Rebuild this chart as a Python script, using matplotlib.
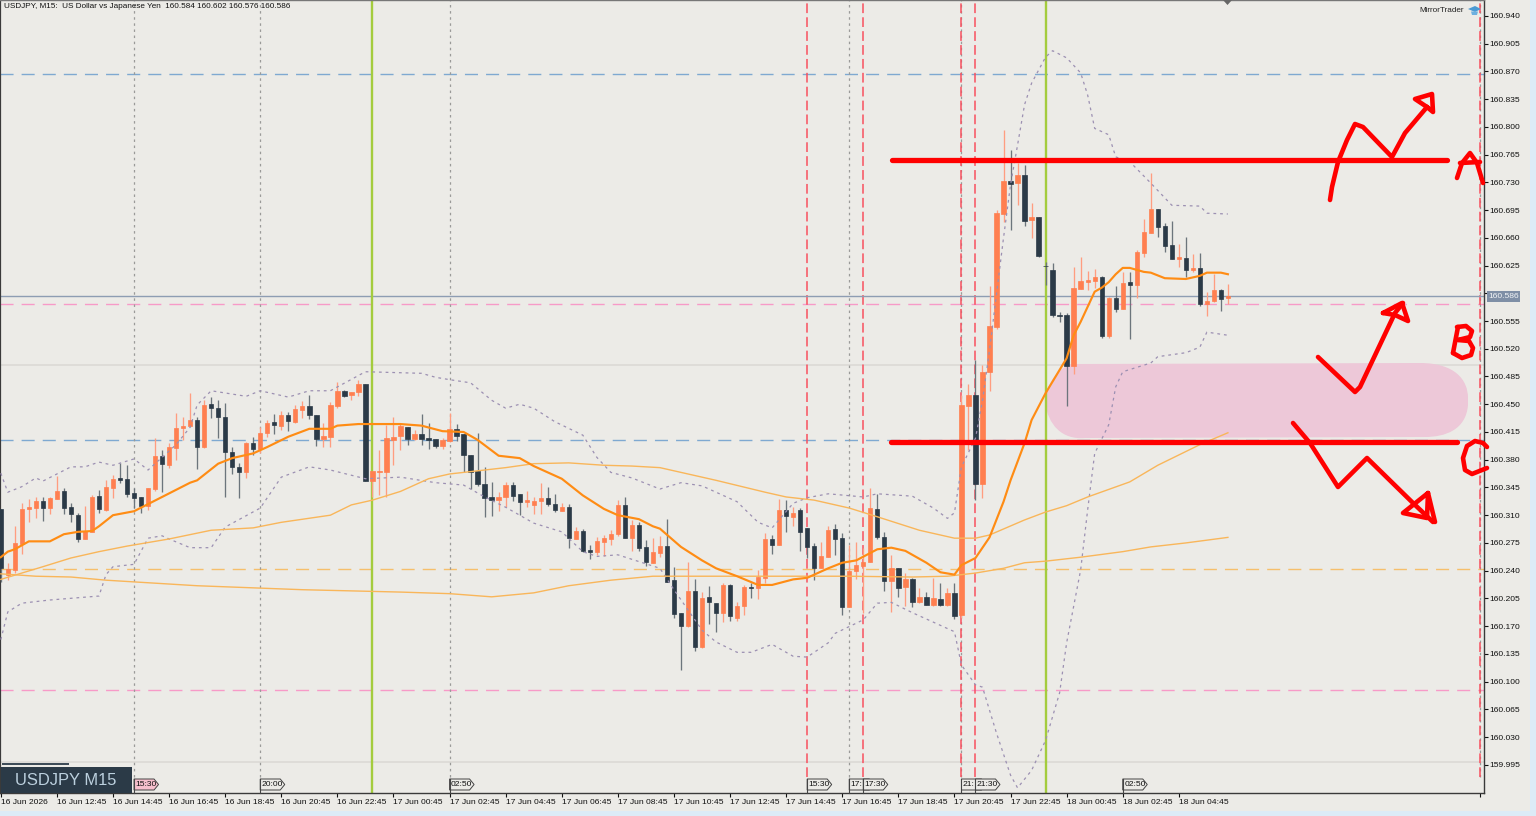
import matplotlib
matplotlib.use("Agg")
import matplotlib.pyplot as plt
from matplotlib.patches import PathPatch, Polygon, Rectangle
from matplotlib.path import Path

plt.rcParams['font.family'] = ['Liberation Sans', 'DejaVu Sans']
plt.rcParams['lines.scale_dashes'] = False

# USDJPY M15 candles, one entry per bar
opens = [160.318, 160.235, 160.241, 160.274, 160.318, 160.319, 160.328, 160.319, 160.330, 160.340,
         160.320, 160.310, 160.280, 160.289, 160.334, 160.317, 160.344, 160.357, 160.356, 160.338,
         160.333, 160.322, 160.343, 160.385, 160.373, 160.395, 160.420, 160.423, 160.430, 160.396,
         160.450, 160.445, 160.434, 160.390, 160.371, 160.364, 160.401, 160.393, 160.414, 160.428,
         160.423, 160.436, 160.428, 160.443, 160.448, 160.436, 160.406, 160.409, 160.448, 160.467,
         160.462, 160.465, 160.475, 160.353, 160.364, 160.364, 160.405, 160.410, 160.421, 160.406,
         160.412, 160.407, 160.406, 160.397, 160.404, 160.419, 160.412, 160.386, 160.366, 160.349,
         160.333, 160.329, 160.333, 160.348, 160.337, 160.327, 160.323, 160.328, 160.332, 160.324,
         160.315, 160.320, 160.280, 160.290, 160.266, 160.264, 160.276, 160.280, 160.286, 160.323,
         160.281, 160.298, 160.270, 160.250, 160.262, 160.271, 160.228, 160.187, 160.170, 160.214,
         160.144, 160.207, 160.199, 160.187, 160.222, 160.180, 160.195, 160.219, 160.218, 160.231,
         160.280, 160.272, 160.317, 160.308, 160.317, 160.294, 160.271, 160.243, 160.257, 160.293,
         160.281, 160.194, 160.240, 160.246, 160.251, 160.318, 160.282, 160.227, 160.243, 160.219,
         160.229, 160.200, 160.207, 160.197, 160.204, 160.197, 160.212, 160.184, 160.448, 160.462,
         160.349, 160.491, 160.547, 160.690, 160.732, 160.729, 160.739, 160.682, 160.686, 160.625,
         160.619, 160.563, 160.563, 160.498, 160.595, 160.604, 160.605, 160.611, 160.536, 160.584,
         160.570, 160.604, 160.600, 160.641, 160.666, 160.696, 160.675, 160.651, 160.633, 160.635,
         160.619, 160.622, 160.576, 160.580, 160.594, 160.584]
highs = [160.318, 160.250, 160.296, 160.325, 160.330, 160.333, 160.333, 160.333, 160.359, 160.344,
         160.325, 160.313, 160.322, 160.335, 160.342, 160.354, 160.361, 160.376, 160.373, 160.344,
         160.333, 160.344, 160.407, 160.392, 160.401, 160.439, 160.434, 160.464, 160.434, 160.455,
         160.459, 160.455, 160.452, 160.396, 160.376, 160.402, 160.409, 160.421, 160.430, 160.438,
         160.441, 160.440, 160.449, 160.454, 160.462, 160.436, 160.426, 160.453, 160.478, 160.468,
         160.465, 160.481, 160.475, 160.366, 160.392, 160.424, 160.434, 160.426, 160.421, 160.417,
         160.438, 160.426, 160.406, 160.407, 160.439, 160.425, 160.412, 160.386, 160.414, 160.371,
         160.352, 160.339, 160.352, 160.352, 160.337, 160.340, 160.333, 160.351, 160.346, 160.337,
         160.325, 160.324, 160.295, 160.293, 160.272, 160.282, 160.285, 160.291, 160.329, 160.333,
         160.304, 160.301, 160.279, 160.281, 160.284, 160.305, 160.245, 160.187, 160.251, 160.229,
         160.213, 160.221, 160.199, 160.224, 160.223, 160.200, 160.222, 160.224, 160.241, 160.288,
         160.285, 160.330, 160.329, 160.320, 160.319, 160.294, 160.275, 160.276, 160.296, 160.299,
         160.288, 160.272, 160.276, 160.269, 160.344, 160.337, 160.289, 160.260, 160.243, 160.237,
         160.231, 160.218, 160.213, 160.231, 160.224, 160.218, 160.224, 160.462, 160.475, 160.506,
         160.499, 160.599, 160.695, 160.796, 160.771, 160.754, 160.752, 160.704, 160.686, 160.629,
         160.628, 160.566, 160.565, 160.623, 160.636, 160.618, 160.621, 160.612, 160.585, 160.599,
         160.617, 160.617, 160.645, 160.684, 160.742, 160.696, 160.679, 160.681, 160.652, 160.661,
         160.640, 160.641, 160.592, 160.614, 160.595, 160.602]
lows = [160.226, 160.228, 160.237, 160.261, 160.301, 160.306, 160.303, 160.311, 160.330, 160.311,
        160.301, 160.276, 160.280, 160.289, 160.313, 160.315, 160.332, 160.351, 160.333, 160.319,
        160.313, 160.317, 160.340, 160.339, 160.370, 160.380, 160.405, 160.421, 160.368, 160.395,
        160.433, 160.407, 160.333, 160.362, 160.332, 160.357, 160.386, 160.388, 160.409, 160.412,
        160.417, 160.416, 160.426, 160.433, 160.431, 160.397, 160.396, 160.396, 160.445, 160.459,
        160.455, 160.460, 160.353, 160.333, 160.335, 160.333, 160.373, 160.392, 160.399, 160.405,
        160.399, 160.393, 160.395, 160.393, 160.402, 160.404, 160.364, 160.343, 160.347, 160.308,
        160.309, 160.315, 160.320, 160.328, 160.310, 160.320, 160.311, 160.311, 160.322, 160.314,
        160.315, 160.269, 160.280, 160.264, 160.255, 160.260, 160.258, 160.272, 160.284, 160.281,
        160.265, 160.265, 160.246, 160.250, 160.257, 160.226, 160.180, 160.115, 160.169, 160.139,
        160.142, 160.173, 160.163, 160.175, 160.176, 160.176, 160.184, 160.205, 160.204, 160.224,
        160.261, 160.272, 160.289, 160.296, 160.265, 160.256, 160.228, 160.243, 160.257, 160.260,
        160.184, 160.194, 160.229, 160.187, 160.251, 160.280, 160.214, 160.188, 160.207, 160.195,
        160.194, 160.199, 160.197, 160.195, 160.195, 160.195, 160.179, 160.180, 160.392, 160.329,
        160.332, 160.467, 160.545, 160.680, 160.670, 160.701, 160.675, 160.660, 160.636, 160.600,
        160.560, 160.554, 160.448, 160.488, 160.595, 160.594, 160.597, 160.534, 160.534, 160.566,
        160.570, 160.532, 160.584, 160.636, 160.666, 160.661, 160.642, 160.633, 160.623, 160.611,
        160.617, 160.574, 160.561, 160.579, 160.568, 160.576]
closes = [160.243, 160.242, 160.275, 160.318, 160.320, 160.328, 160.319, 160.332, 160.340, 160.319,
          160.311, 160.280, 160.290, 160.333, 160.318, 160.346, 160.356, 160.354, 160.337, 160.332,
          160.322, 160.344, 160.385, 160.375, 160.396, 160.420, 160.423, 160.430, 160.396, 160.449,
          160.445, 160.434, 160.390, 160.371, 160.364, 160.401, 160.393, 160.414, 160.426, 160.424,
          160.436, 160.429, 160.444, 160.448, 160.436, 160.406, 160.410, 160.449, 160.467, 160.460,
          160.465, 160.475, 160.353, 160.366, 160.366, 160.407, 160.409, 160.423, 160.406, 160.412,
          160.406, 160.405, 160.397, 160.405, 160.419, 160.410, 160.386, 160.364, 160.349, 160.332,
          160.329, 160.333, 160.348, 160.334, 160.327, 160.329, 160.328, 160.332, 160.324, 160.317,
          160.320, 160.281, 160.290, 160.265, 160.264, 160.277, 160.281, 160.286, 160.323, 160.281,
          160.298, 160.269, 160.251, 160.264, 160.271, 160.226, 160.185, 160.170, 160.214, 160.144,
          160.205, 160.200, 160.187, 160.222, 160.183, 160.195, 160.219, 160.218, 160.232, 160.280,
          160.272, 160.317, 160.309, 160.313, 160.289, 160.270, 160.243, 160.258, 160.291, 160.280,
          160.194, 160.240, 160.247, 160.251, 160.319, 160.282, 160.227, 160.243, 160.218, 160.229,
          160.200, 160.207, 160.197, 160.205, 160.197, 160.212, 160.183, 160.449, 160.462, 160.349,
          160.491, 160.549, 160.691, 160.732, 160.728, 160.739, 160.681, 160.686, 160.637, 160.624,
          160.563, 160.561, 160.498, 160.597, 160.605, 160.607, 160.611, 160.536, 160.584, 160.570,
          160.603, 160.600, 160.642, 160.667, 160.696, 160.674, 160.650, 160.633, 160.636, 160.619,
          160.622, 160.576, 160.580, 160.594, 160.583, 160.586]

# fast moving average
fast_bars = [0, 1, 2, 4, 7, 9, 11, 13, 14, 16, 19, 21, 23, 27, 28, 31, 33, 36, 38, 41, 44, 47, 48, 51, 57,
             60, 63, 66, 68, 71, 74, 76, 80, 83, 86, 88, 91, 93, 94, 97, 100, 102, 105, 108, 110, 113, 115,
             118, 120, 122, 125, 127, 129, 132, 134, 136, 137, 139, 141, 143, 144, 146, 147, 149, 152, 153,
             154, 156, 157, 158, 159, 160, 161, 163, 164, 166, 169, 171, 172, 174, 175]
fast_ma = [160.257, 160.264, 160.267, 160.277, 160.277, 160.286, 160.289, 160.290, 160.296, 160.310, 160.315,
           160.324, 160.333, 160.351, 160.354, 160.375, 160.382, 160.388, 160.396, 160.409, 160.419, 160.419,
           160.423, 160.425, 160.425, 160.423, 160.416, 160.415, 160.405, 160.385, 160.382, 160.372, 160.356,
           160.335, 160.318, 160.310, 160.305, 160.296, 160.293, 160.270, 160.253, 160.243, 160.233, 160.222,
           160.222, 160.229, 160.231, 160.243, 160.250, 160.253, 160.267, 160.269, 160.265, 160.250, 160.238,
           160.235, 160.247, 160.256, 160.282, 160.327, 160.354, 160.401, 160.430, 160.464, 160.508, 160.537,
           160.554, 160.592, 160.597, 160.604, 160.614, 160.622, 160.622, 160.617, 160.616, 160.609, 160.608,
           160.612, 160.616, 160.616, 160.614]

# medium moving average
mid_bars = [0, 3, 6, 10, 14, 18, 24, 30, 36, 40, 47, 50, 53, 57, 59, 61, 64, 68, 72, 76, 81, 86, 90, 94, 100,
            102, 109, 112, 116, 121, 125, 131, 136, 139, 141, 146, 149, 152, 155, 161, 165, 171, 175]
mid_ma = [160.229, 160.237, 160.245, 160.256, 160.264, 160.271, 160.280, 160.291, 160.294, 160.301, 160.310,
          160.323, 160.329, 160.340, 160.348, 160.356, 160.362, 160.366, 160.370, 160.375, 160.376, 160.373,
          160.372, 160.370, 160.358, 160.354, 160.339, 160.333, 160.329, 160.319, 160.308, 160.291, 160.281,
          160.281, 160.285, 160.304, 160.314, 160.322, 160.333, 160.352, 160.373, 160.399, 160.414]

# slow moving average
slow_bars = [0, 5, 10, 15, 28, 43, 57, 64, 70, 76, 81, 87, 93, 100, 106, 121, 130, 135, 139, 143, 146, 149,
             154, 160, 164, 169, 175]
slow_ma = [160.236, 160.233, 160.232, 160.228, 160.221, 160.216, 160.213, 160.211, 160.207, 160.212, 160.221,
           160.228, 160.233, 160.233, 160.233, 160.233, 160.232, 160.233, 160.237, 160.243, 160.250, 160.252,
           160.257, 160.264, 160.270, 160.275, 160.282]

# bollinger bands
upper_bars = [0, 1, 3, 5, 6, 10, 12, 14, 16, 19, 21, 25, 27, 28, 30, 35, 37, 41, 44, 47, 52, 60, 62, 64, 67,
              70, 72, 74, 76, 79, 83, 85, 87, 90, 94, 97, 100, 105, 108, 110, 113, 115, 118, 123, 125, 130,
              133, 135, 136, 137, 139, 140, 141, 143, 144, 145, 146, 147, 149, 150, 152, 154, 155, 156, 158,
              159, 161, 164, 167, 171, 172, 175]
upper_band = [160.363, 160.339, 160.346, 160.357, 160.353, 160.371, 160.371, 160.377, 160.373, 160.381, 160.367,
              160.399, 160.421, 160.449, 160.467, 160.460, 160.467, 160.459, 160.467, 160.467, 160.491, 160.489,
              160.484, 160.481, 160.477, 160.455, 160.445, 160.450, 160.445, 160.428, 160.411, 160.383, 160.364,
              160.357, 160.343, 160.351, 160.347, 160.327, 160.301, 160.294, 160.325, 160.332, 160.337, 160.333,
              160.337, 160.334, 160.319, 160.306, 160.313, 160.371, 160.407, 160.455, 160.518, 160.660, 160.727,
              160.777, 160.828, 160.855, 160.888, 160.896, 160.887, 160.868, 160.840, 160.798, 160.790, 160.762,
              160.756, 160.729, 160.701, 160.700, 160.691, 160.690]
lower_bars = [0, 1, 3, 7, 14, 15, 16, 19, 21, 23, 24, 27, 30, 32, 37, 40, 44, 47, 52, 57, 62, 66, 69, 72, 76,
              80, 83, 85, 88, 94, 96, 100, 102, 105, 107, 110, 113, 115, 118, 119, 123, 125, 127, 130, 136,
              137, 139, 140, 142, 144, 145, 147, 149, 151, 152, 154, 155, 156, 158, 159, 160, 164, 165, 169,
              171, 172, 175]
lower_band = [160.153, 160.188, 160.199, 160.203, 160.208, 160.235, 160.245, 160.248, 160.281, 160.284, 160.280,
              160.269, 160.269, 160.295, 160.319, 160.358, 160.371, 160.367, 160.356, 160.358, 160.351, 160.348,
              160.333, 160.320, 160.300, 160.289, 160.264, 160.258, 160.260, 160.243, 160.216, 160.165, 160.150,
              160.137, 160.137, 160.147, 160.132, 160.131, 160.149, 160.161, 160.178, 160.199, 160.200, 160.187,
              160.163, 160.121, 160.096, 160.093, 160.035, 159.982, 159.966, 159.988, 160.026, 160.086, 160.149,
              160.241, 160.317, 160.388, 160.424, 160.472, 160.491, 160.502, 160.510, 160.515, 160.522, 160.541,
              160.537]

# horizontal levels and event markers
blue_levels = [160.867, 160.405]
pink_levels = [160.577, 160.089]
orange_levels = [160.242]
plain_levels = [160.499, 159.999]
green_events = [53, 149]
grey_events = [19, 37, 64, 121, 137, 211]
red_events = [115, 123, 137, 139, 211]
flag_bars = [19, 37, 64, 115, 121, 123, 137, 139, 160]
flag_texts = ['15:30', '20:00', '02:50', '15:30', '17:', '17:30', '21:', '21:30', '02:50']

price_ticks = [160.940, 160.905, 160.870, 160.835, 160.800, 160.765, 160.730, 160.695, 160.660, 160.625,
               160.590, 160.555, 160.520, 160.485, 160.450, 160.415, 160.380, 160.345, 160.310, 160.275,
               160.240, 160.205, 160.170, 160.135, 160.100, 160.065, 160.030, 159.995]
time_bars = [0, 8, 16, 24, 32, 40, 48, 56, 64, 72, 80, 88, 96, 104, 112, 120, 128, 136, 144, 152, 160, 168]
time_labels = ['16 Jun 2026', '16 Jun 12:45', '16 Jun 14:45', '16 Jun 16:45', '16 Jun 18:45', '16 Jun 20:45',
               '16 Jun 22:45', '17 Jun 00:45', '17 Jun 02:45', '17 Jun 04:45', '17 Jun 06:45', '17 Jun 08:45',
               '17 Jun 10:45', '17 Jun 12:45', '17 Jun 14:45', '17 Jun 16:45', '17 Jun 18:45', '17 Jun 20:45',
               '17 Jun 22:45', '18 Jun 00:45', '18 Jun 02:45', '18 Jun 04:45']

BG = '#ecebe7'
W, H = 1536, 816
fig = plt.figure(figsize=(W / 100, H / 100), dpi=100, facecolor=BG)
ax = fig.add_axes([0, 23 / H, 1484 / W, 793 / H], facecolor=BG)
ax.set_xlim(-0.114, 211.52)
ax.set_ylim(159.9595, 160.960)

# levels and events, behind the candles
for p in blue_levels:
    ax.axhline(p, color='#7fa9d1', lw=1.0, ls=(0, (9.4, 5.8)), zorder=1)
for p in pink_levels:
    ax.axhline(p, color='#f79ac8', lw=1.0, ls=(0, (9.4, 5.8)), zorder=1)
for p in orange_levels:
    ax.axhline(p, color='#f6bf6c', lw=1.0, ls=(0, (9.4, 5.8)), zorder=1)
for p in plain_levels:
    ax.axhline(p, color='#dcdad6', lw=1.2, zorder=1)
ax.axhline(closes[-1], color='#8e9db3', lw=1.0, zorder=1.6)

for b in grey_events:
    ax.axvline(b, ymin=0.02, color='#9a9a98', lw=0.9, ls=(0, (1.8, 2.6)), zorder=1)
for b in red_events:
    ax.axvline(b, ymin=0.02, color='#f8505f', lw=1.1, ls=(0, (7, 3)), zorder=1.1)
for b in green_events:
    ax.axvline(b, color='#a4cc3e', lw=1.7, zorder=2)

# candles
bars = range(len(closes))
is_up = [c >= o for o, c in zip(opens, closes)]
wick_colors = ['#ff9d80' if u else '#6c757c' for u in is_up]
body_colors = ['#ff7f50' if u else '#2b3a47' for u in is_up]
ax.vlines(bars, lows, highs, colors=wick_colors, lw=0.95, zorder=3)
ax.bar(bars, [abs(c - o) for o, c in zip(opens, closes)], bottom=[min(o, c) for o, c in zip(opens, closes)],
       width=0.62, color=body_colors, edgecolor=body_colors, lw=0.5, zorder=3.1)

# moving averages and bands
ax.plot(upper_bars, upper_band, color='#9c90b2', lw=0.9, ls=(0, (2, 2.8)), zorder=4)
ax.plot(lower_bars, lower_band, color='#9c90b2', lw=0.9, ls=(0, (2, 2.8)), zorder=4)
ax.plot(slow_bars, slow_ma, color='#f9b65a', lw=1.0, zorder=4)
ax.plot(mid_bars, mid_ma, color='#f9b65a', lw=1.0, zorder=4)
ax.plot(fast_bars, fast_ma, color='#ff8c14', lw=1.55, zorder=4.2)

# axes
ax.yaxis.tick_right()
ax.set_yticks(price_ticks)
ax.set_yticklabels([f'{p:.3f}' for p in price_ticks])
ax.set_xticks(time_bars + [211])
ax.set_xticklabels(time_labels + [''], ha='left')
ax.tick_params(axis='y', length=3, width=0.8, pad=1.2, labelsize=6.1, colors='#111111')
ax.tick_params(axis='x', length=3, width=0.8, pad=1.4, labelsize=6.1, colors='#111111')
for s in ax.spines.values():
    s.set_color('#3a3a3a')
    s.set_linewidth(1.0)
ax.spines['top'].set_color('#777777')
ax.spines['left'].set_linewidth(1.6)

# overlay in figure pixels for the drawn annotations and chart furniture
px = fig.add_axes([0, 0, 1, 1], facecolor='none')
px.set_xlim(0, W)
px.set_ylim(H, 0)
px.axis('off')


def bar_x(b):
    return ax.transData.transform((b, 160.0))[0]


def price_y(p):
    return H - ax.transData.transform((0, p))[1]


# highlighted zone sits under the candles, so it goes on the main axes
inv = ax.transData.inverted()


def to_data(x, y):
    return inv.transform((x, H - y))


zone_codes = [Path.MOVETO, Path.LINETO, Path.CURVE4, Path.CURVE4, Path.CURVE4, Path.LINETO, Path.CURVE4, Path.CURVE4,
              Path.CURVE4, Path.LINETO, Path.CURVE4, Path.CURVE4, Path.CURVE4, Path.CURVE4, Path.CURVE4, Path.CURVE4]
zone_pts = [(1075, 364), (1420, 363), (1455, 363), (1468, 380), (1468, 398), (1468, 405), (1466, 430), (1445, 437),
            (1425, 437), (1085, 438), (1062, 440), (1048, 425), (1045, 402), (1045, 385), (1060, 364), (1075, 364)]
ax.add_patch(PathPatch(Path([to_data(*q) for q in zone_pts], zone_codes), facecolor='#edc8d8', edgecolor='none',
                       zorder=1.5))

# flags on the time axis
for b, t in zip(flag_bars, flag_texts):
    x = bar_x(b)
    fc = '#f7bfcd' if b == flag_bars[0] else BG
    px.add_patch(Polygon([(x, 779), (x + 20, 779), (x + 24.5, 784.5), (x + 20, 790), (x, 790)], closed=True,
                         facecolor=fc, edgecolor='#444444', lw=0.7, zorder=5))
    px.plot([x, x], [779, 793], color='#444444', lw=0.8, zorder=5)
    px.text(x + 1.5, 785, t, fontsize=6.1, color='#111111', va='center', ha='left', zorder=5.1)

# symbol plate, bottom left
px.add_patch(Rectangle((1, 767), 131, 26, facecolor='#2b3a47', edgecolor='none', zorder=6))
px.add_patch(Rectangle((2, 763), 67, 1.6, facecolor='#3e4c58', edgecolor='none', zorder=6))
px.text(15, 780.5, 'USDJPY M15', fontsize=11.9, color='#bcd0de', va='center', ha='left', zorder=7)

# header text
px.text(4, 7, f'USDJPY, M15:  US Dollar vs Japanese Yen  {opens[-1]:.3f} {highs[-1]:.3f} {lows[-1]:.3f} {closes[-1]:.3f}',
        fontsize=5.85, color='#111111', va='center', ha='left')
px.text(1464, 10.5, 'MirrorTrader', fontsize=5.85, color='#222222', va='center', ha='right')
px.add_patch(Polygon([(1468, 9), (1475, 6), (1481, 9), (1475, 12)], closed=True, facecolor='#4a9ad4', edgecolor='none'))
px.add_patch(Polygon([(1471, 11.5), (1478, 11.5), (1477, 15), (1472, 15)], closed=True, facecolor='#6db0df',
                     edgecolor='none'))
px.add_patch(Polygon([(1223, 0), (1232, 0), (1227.5, 5)], closed=True, facecolor='#666666', edgecolor='none'))

# current price tag
tag_y = price_y(closes[-1])
px.add_patch(Rectangle((1487, tag_y - 5.5), 33, 11, facecolor='#7f8fa6', edgecolor='none', zorder=6))
px.text(1503.5, tag_y, f'{closes[-1]:.3f}', fontsize=6.1, color='#f2f4f6', va='center', ha='center', zorder=7)

# hand-drawn levels, arrows and letters
strokes = [
    [(892, 160), (1447, 160)],
    [(891, 442), (1457, 442)],
    [(1330, 200), (1332, 187), (1338, 162), (1347, 140), (1355, 124), (1363, 127), (1392, 157), (1405, 133), (1427, 107)],
    [(1427, 107), (1415, 99), (1432, 94), (1433, 112), (1427, 107)],
    [(1457, 178), (1462, 163), (1470, 153), (1477, 163), (1483, 183)],
    [(1460, 163), (1480, 162)],
    [(1318, 357), (1355, 392), (1360, 387), (1395, 313), (1403, 303)],
    [(1383, 313), (1402, 303), (1408, 321), (1395, 315), (1383, 313)],
    [(1458, 327), (1453, 353)],
    [(1457, 327), (1466, 326), (1472, 331), (1470, 337), (1458, 340), (1469, 341), (1473, 348), (1471, 355), (1462, 358),
     (1453, 353)],
    [(1293, 423), (1310, 443), (1338, 487), (1367, 458), (1413, 503), (1433, 522)],
    [(1428, 493), (1403, 513), (1427, 518), (1428, 493), (1435, 522)],
    [(1487, 447), (1483, 443), (1475, 441), (1467, 446), (1463, 458), (1465, 470), (1472, 474), (1487, 468)],
]
for i, pts in enumerate(strokes):
    xs, ys = zip(*pts)
    px.plot(xs, ys, color='#ff0000', lw=3.8 if i < 2 else 3.3, solid_capstyle='round', solid_joinstyle='round',
            zorder=8, clip_on=False)

# window edge strips
px.add_patch(Rectangle((0, 811), W, 5, facecolor='#dcebf7', edgecolor='none', zorder=9))
px.add_patch(Rectangle((1530, 0), 6, H, facecolor='#dcebf7', edgecolor='none', zorder=9))

fig.savefig('out.png', dpi=100, facecolor=fig.get_facecolor())
